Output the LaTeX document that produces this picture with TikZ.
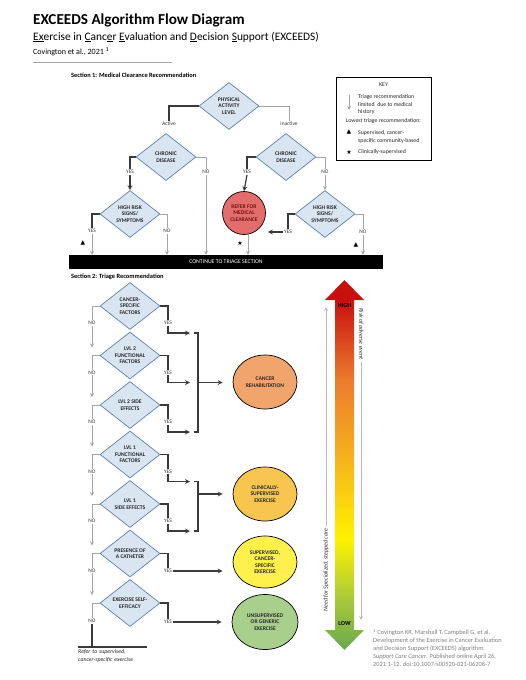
\documentclass[tikz,border=0pt]{standalone}
\usepackage{fontspec}
\setmainfont{Carlito}
\newfontfamily\symfont{DejaVu Sans}
\usepackage{xcolor}
\usetikzlibrary{shapes.geometric,arrows,positioning,calc}

\definecolor{diafill}{HTML}{DAE5F2}
\definecolor{diaedge}{HTML}{5A82B4}
\definecolor{darkline}{HTML}{3A3A3A}
\definecolor{grayline}{HTML}{A6A6A6}
\definecolor{referfill}{HTML}{E36C6C}
\definecolor{refertext}{HTML}{6E1515}
\definecolor{rehabfill}{HTML}{F1A46C}
\definecolor{clinfill}{HTML}{F8C64F}
\definecolor{supfill}{HTML}{FFF04D}
\definecolor{unsupfill}{HTML}{A9CF8C}
\definecolor{barred}{HTML}{C8100F}
\definecolor{barorange}{HTML}{EC7B2E}
\definecolor{baramber}{HTML}{F6B41C}
\definecolor{baryellow}{HTML}{FFF200}
\definecolor{barlime}{HTML}{A8C83A}
\definecolor{bargreen}{HTML}{6AA84F}
\definecolor{footgray}{HTML}{7F7F7F}

\pgfdeclareverticalshading{riskbar}{100bp}{color(0bp)=(bargreen); color(25bp)=(bargreen); color(31.8bp)=(barlime); color(40bp)=(baryellow); color(50.7bp)=(baramber); color(61.5bp)=(barorange); color(72.3bp)=(barred); color(100bp)=(barred)}

\begin{document}
\begin{tikzpicture}[
    x=1pt, y=-1pt,
    dia/.style={diamond, draw=diaedge, fill=diafill, line width=0.7pt, minimum width=60pt, minimum height=47pt, inner sep=0pt},
    diatext/.style={font=\fontsize{5.6}{6.4}\selectfont\bfseries, text=black!85, align=center, inner sep=0pt},
    outcome/.style={ellipse, draw=black, line width=0.7pt, minimum width=64pt, minimum height=54pt, inner sep=0pt, font=\fontsize{5.6}{6.4}\selectfont\bfseries, align=center, text=black!85},
    yesno/.style={font=\fontsize{5.4}{6}\selectfont, inner sep=1pt, text=black!80},
    heading/.style={font=\fontsize{6.4}{7}\selectfont\bfseries, anchor=west, inner sep=0pt},
    dark line/.style={draw=darkline, line width=1.3pt},
    gray line/.style={draw=grayline, line width=0.8pt},
    dark arrow/.style={->, >=stealth, draw=darkline, line width=1.2pt},
    gray arrow/.style={->, >=stealth, draw=grayline, line width=0.8pt},
    keytext/.style={font=\fontsize{5.8}{7.8}\selectfont, inner sep=0pt, align=left, text=black!85},
    sym/.style={font=\symfont\fontsize{6}{6}\selectfont, inner sep=0pt}
]
    \useasboundingbox (0,0) rectangle (525,680);

    % Title block
    \node[anchor=west, inner sep=0pt, font=\fontsize{15.2}{18}\selectfont\bfseries] (title) at (33,20) {EXCEEDS Algorithm Flow Diagram};
    \node[anchor=west, inner sep=0pt, font=\fontsize{11.4}{13}\selectfont] (subtitle) at (33,37) {\underline{Ex}ercise in \underline{C}anc\underline{e}r \underline{E}valuation and \underline{D}ecision \underline{S}upport (EXCEEDS)};
    \node[anchor=west, inner sep=0pt, font=\fontsize{8}{9}\selectfont] (cite) at (33,52) {Covington et al., 2021 \textsuperscript{1}};
    \draw[gray line, draw=gray!70] (33,62) -- (172,62);

    % Section 1
    \node[heading] (sec1) at (71,75) {Section 1: Medical Clearance Recommendation};

    \node[dia, label={[diatext]center:{PHYSICAL\\ACTIVITY\\LEVEL}}] (pal) at (229,106) {};
    \node[dia, label={[diatext]center:{CHRONIC\\DISEASE}}] (cdl) at (166,157) {};
    \node[dia, label={[diatext]center:{CHRONIC\\DISEASE}}] (cdr) at (286,157) {};
    \node[dia, label={[diatext]center:{HIGH RISK\\SIGNS/\\SYMPTOMS}}] (hrl) at (130,214) {};
    \node[dia, label={[diatext]center:{HIGH RISK\\SIGNS/\\SYMPTOMS}}] (hrr) at (325,214) {};
    \node[circle, draw=black, line width=0.7pt, fill=referfill, minimum size=43pt, inner sep=0pt, font=\fontsize{5.6}{6.4}\selectfont\bfseries, text=refertext, align=center] (refer) at (244,213) {REFER FOR\\MEDICAL\\CLEARANCE};

    \node[yesno] (active) at (169,124) {Active};
    \node[yesno] (inactive) at (289,124) {Inactive};
    \node[yesno] (yesa) at (130,172) {YES};
    \node[yesno] (noa) at (206,172) {NO};
    \node[yesno] (yesc) at (247,172) {YES};
    \node[yesno] (noc) at (325,172) {NO};
    \node[yesno] (yesb) at (92,231) {YES};
    \node[yesno] (nob) at (167,231) {NO};
    \node[yesno] (yesd) at (288,232) {YES};
    \node[yesno] (nod) at (363,232) {NO};

    \node[fill=black, minimum width=314pt, minimum height=14pt, inner sep=0pt, text=white, font=\fontsize{5.8}{6}\selectfont] (bar) at (226,262) {CONTINUE TO TRIAGE SECTION};

    \draw[dark line] (pal.west) -| (active.north);
    \draw[gray line] (pal.east) -| (inactive.north);
    \draw[dark line] (cdl.west) -| (yesa.north);
    \draw[gray line] (cdl.east) -| (noa.north);
    \draw[dark line] (cdr.west) -| (yesc.north);
    \draw[gray line] (cdr.east) -| (noc.north);
    \draw[dark arrow] (yesa.south) -- (hrl.north);
    \draw[dark arrow] (yesc.south) -- (refer.north);
    \draw[gray arrow] (noc.south) -- (hrr.north);
    \draw[dark line] (hrl.west) -| (yesb.north);
    \draw[gray line] (hrl.east) -| (nob.north);
    \draw[dark line] (hrr.west) -| (yesd.north);
    \draw[gray line] (hrr.east) -| (nod.north);
    \draw[dark arrow, shorten >=2pt] (yesd.west) -- (yesd.west -| refer.east);

    % Arrows into the triage bar
    \draw[gray arrow] (yesb.south) -- (yesb.south |- bar.north);
    \draw[gray arrow] (nob.south) -- (nob.south |- bar.north);
    \draw[gray arrow] (noa.south) -- (noa.south |- bar.north);
    \draw[gray arrow] ([xshift=4pt]refer.south) -- ([xshift=4pt]refer.south |- bar.north);
    \draw[gray arrow] (nod.south) -- (nod.south |- bar.north);
    \node[sym] (tria) at (83,243) {▲};
    \node[sym] (trib) at (356,245) {▲};
    \node[sym] (stara) at (240,243) {★};

    % Key
    \node[draw=black, line width=0.8pt, minimum width=95pt, minimum height=83pt, inner sep=0pt] (key) at (383.5,118.5) {};
    \node[keytext] (keyhead) at (383.5,85) {KEY};
    \coordinate (keytop) at (349,95);
    \coordinate (keybot) at (349,110);
    \draw[gray arrow] (keytop) -- (keybot);
    \node[keytext, anchor=west] (keylimited) at (358,104.5) {Triage recommendation\\limited\ \ due to medical\\history};
    \node[keytext] (keylowest) at (383.5,121) {Lowest triage recommendation:};
    \node[sym] (keytri) at (349,132) {▲};
    \node[keytext, anchor=west] (keysup) at (358,137) {Supervised, cancer-\\specific community-based};
    \node[sym] (keystar) at (349,152) {★};
    \node[keytext, anchor=west] (keyclin) at (358,152) {Clinically-supervised};

    % Section 2
    \node[heading] (sec2) at (71,277) {Section 2: Triage Recommendation};

    \node[dia, label={[diatext]center:{CANCER-\\SPECIFIC\\FACTORS}}] (d1) at (130,306) {};
    \node[dia, label={[diatext]center:{LVL 2\\FUNCTIONAL\\FACTORS}}] (d2) at (130,355.5) {};
    \node[dia, label={[diatext]center:{LVL 2 SIDE\\EFFECTS}}] (d3) at (130,405) {};
    \node[dia, label={[diatext]center:{LVL 1\\FUNCTIONAL\\FACTORS}}] (d4) at (130,454.5) {};
    \node[dia, label={[diatext]center:{LVL 1\\SIDE EFFECTS}}] (d5) at (130,504) {};
    \node[dia, label={[diatext]center:{PRESENCE OF\\A CATHETER}}] (d6) at (130,553.5) {};
    \node[dia, label={[diatext]center:{EXERCISE SELF-\\EFFICACY}}] (d7) at (130,603) {};

    \node[yesno] (no1) at (92,323) {NO};
    \node[yesno] (no2) at (92,372.5) {NO};
    \node[yesno] (no3) at (92,422) {NO};
    \node[yesno] (no4) at (92,471.5) {NO};
    \node[yesno] (no5) at (92,521) {NO};
    \node[yesno] (no6) at (92,570.5) {NO};
    \node[yesno] (no7) at (92,621) {NO};
    \node[yesno] (yes1) at (168,323) {YES};
    \node[yesno] (yes2) at (168,372.5) {YES};
    \node[yesno] (yes3) at (168,422) {YES};
    \node[yesno] (yes4) at (168,471.5) {YES};
    \node[yesno] (yes5) at (168,521) {YES};
    \node[yesno] (yes6) at (168,571) {YES};
    \node[yesno] (yes7) at (168,622) {YES};

    % Outcomes
    \node[outcome, fill=rehabfill] (rehab) at (265,382) {CANCER\\REHABILITATION};
    \node[outcome, fill=clinfill] (clin) at (265,494) {CLINICALLY-\\SUPERVISED\\EXERCISE};
    \node[outcome, fill=supfill, minimum height=52pt] (sup) at (265,562) {SUPERVISED,\\CANCER-\\SPECIFIC\\EXERCISE};
    \node[outcome, fill=unsupfill, minimum width=66pt, minimum height=55pt] (unsup) at (265,622) {UNSUPERVISED\\OR GENERIC\\EXERCISE};

    % NO chain
    \draw[gray line] (d1.west) -| (no1.north);
    \draw[gray line] (d2.west) -| (no2.north);
    \draw[gray line] (d3.west) -| (no3.north);
    \draw[gray line] (d4.west) -| (no4.north);
    \draw[gray line] (d5.west) -| (no5.north);
    \draw[gray line] (d6.west) -| (no6.north);
    \draw[gray line] (d7.west) -| (no7.north);
    \draw[gray arrow, shorten >=8pt] (no1.south) -- (no1.south |- d2.west);
    \draw[gray arrow, shorten >=8pt] (no2.south) -- (no2.south |- d3.west);
    \draw[gray arrow, shorten >=8pt] (no3.south) -- (no3.south |- d4.west);
    \draw[gray arrow, shorten >=8pt] (no4.south) -- (no4.south |- d5.west);
    \draw[gray arrow, shorten >=8pt] (no5.south) -- (no5.south |- d6.west);
    \draw[gray arrow, shorten >=8pt] (no6.south) -- (no6.south |- d7.west);

    \node[anchor=north west, inner xsep=0pt, inner ysep=2pt, text width=69pt, align=left, font=\fontsize{5.8}{8}\selectfont\itshape, text=black!85] (refsup) at (78,647) {Refer to supervised,\\cancer-specific exercise};
    \draw[dark line] (no7.south) -- (no7.south |- refsup.north);
    \draw[dark line] (refsup.north west) -- (refsup.north east);

    % YES side
    \draw[dark line] (d1.east) -| (yes1.north);
    \draw[dark line] (d2.east) -| (yes2.north);
    \draw[dark line] (d3.east) -| (yes3.north);
    \draw[dark line] (d4.east) -| (yes4.north);
    \draw[dark line] (d5.east) -| (yes5.north);
    \draw[dark line] (d6.east) -| (yes6.north);
    \draw[dark line] (d7.east) -| (yes7.north);

    \coordinate (b1) at (198,333);
    \coordinate (b2) at (198,382.5);
    \coordinate (b3) at (198,432);
    \coordinate (b4) at (198,481.5);
    \coordinate (b5) at (198,531);
    \draw[dark arrow, shorten >=8pt] (yes1.south) |- (b1);
    \draw[dark arrow, shorten >=8pt] (yes2.south) |- (b2);
    \draw[dark arrow, shorten >=8pt] (yes3.south) |- (b3);
    \draw[dark arrow, shorten >=8pt] (yes4.south) |- (b4);
    \draw[dark arrow, shorten >=8pt] (yes5.south) |- (b5);
    \draw[dark line] ([xshift=-4pt]b1) -- (b1) -- (b3) -- ([xshift=-4pt]b3);
    \draw[dark line] ([xshift=-4pt]b4) -- (b4) -- (b5) -- ([xshift=-4pt]b5);
    \draw[dark arrow, shorten >=10pt] (b2) -- (b2 -| rehab.west);
    \draw[dark arrow, shorten >=10pt] (b4 |- clin.west) -- (clin.west);
    \draw[dark arrow, shorten >=10pt] (yes6.east) -- (yes6.east -| sup.west);
    \draw[dark arrow, shorten >=10pt] (yes7.east) -- (yes7.east -| unsup.west);

    % Risk / care gradient arrow
    \shade[shading=riskbar] (335,300) -- (325,300) -- (344.5,280) -- (364,300) -- (354,300) -- (354,630) -- (364,630) -- (344.5,650) -- (325,630) -- (335,630) -- cycle;
    \node[font=\fontsize{6.2}{7}\selectfont\bfseries, inner sep=0pt] (high) at (344.5,305) {HIGH};
    \node[font=\fontsize{6.2}{7}\selectfont\bfseries, inner sep=0pt] (low) at (344.5,623) {LOW};

    \coordinate (needtop) at (326,307);
    \node[rotate=90, font=\fontsize{6}{7}\selectfont\itshape, inner sep=2pt, text=black!85] (need) at (326,570) {Need for Specialized, stepped care};
    \draw[gray arrow, draw=gray!55] (need.east) -- (needtop);
    \coordinate (riskend) at (361,620);
    \node[rotate=-90, font=\fontsize{6}{7}\selectfont\itshape, inner sep=2pt, text=black!85] (risk) at (361,334) {Risk of adverse event};
    \draw[gray arrow, draw=gray!55] (risk.east) -- (riskend);

    % Footnote
    \node[anchor=north west, inner sep=0pt, align=left, font=\fontsize{6.4}{8}\selectfont, text=footgray] (foot) at (373,629) {\textsuperscript{1} Covington KR, Marshall T, Campbell G, et al.\\Development of the Exercise in Cancer Evaluation\\and Decision Support (EXCEEDS) algorithm.\\\textit{Support Care Cancer}. Published online April 26,\\2021:1-12. doi:10.1007/s00520-021-06208-7};
\end{tikzpicture}
\end{document}
